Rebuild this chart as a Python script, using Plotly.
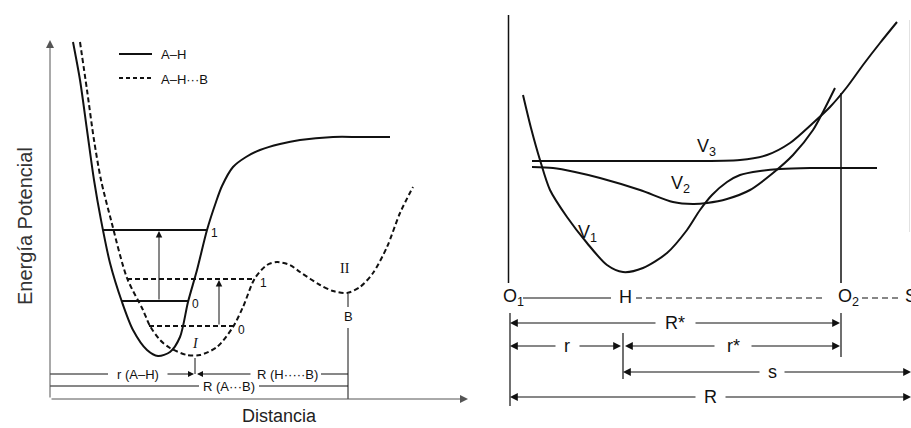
import plotly.graph_objects as go

# ---------------- Left panel: A-H and A-H···B potential curves ----------------
# coordinates: x = distance, y = energy (screen-oriented units, y grows downward)
ah_x = [73, 80, 87, 94, 101, 110, 122, 133, 147, 158, 170, 180, 188, 197, 207, 216, 222, 233, 246, 260, 280, 300, 333, 360, 390]
ah_y = [42, 80, 130, 180, 220, 263, 302, 330, 350, 356, 352, 337, 302, 270, 230, 202, 186, 167, 157, 150, 144, 140, 137, 137, 137]

ahb_x = [80, 87, 94, 101, 111, 127, 143, 150, 160, 170, 187, 200, 217, 233, 243, 255, 267, 277, 290, 300, 320, 333, 347, 360, 373, 387, 400, 413]
ahb_y = [42, 90, 140, 180, 220, 278, 310, 326, 340, 348, 355, 355, 347, 327, 307, 278, 265, 262, 265, 272, 285, 291, 293, 287, 273, 247, 213, 187]

# vibrational levels: (energy, x_left, x_right, label)
ah_levels = [(230, 103, 207, "1"), (301, 122, 188, "0")]
ahb_levels = [(279, 127, 255, "1"), (326, 149, 233, "0")]

# ---------------- Right panel: V1, V2, V3 along the O1-H···O2 coordinate ----------------
v1_x = [523, 531, 540, 550, 567, 587, 607, 623, 643, 667, 687, 700, 712, 727, 740, 760, 780, 810, 877]
v1_y = [95, 128, 160, 190, 217, 243, 265, 272, 268, 253, 230, 210, 195, 182, 175, 171, 169, 168, 168]

v2_x = [532, 553, 575, 600, 640, 673, 693, 707, 727, 750, 773, 793, 813, 824, 835]
v2_y = [167, 168, 172, 178, 190, 202, 204, 203, 199, 190, 173, 155, 130, 110, 88]

v3_x = [532, 600, 680, 740, 767, 790, 813, 830, 847, 863, 880, 897]
v3_y = [161, 161, 161, 160, 155, 143, 123, 107, 87, 65, 43, 22]

INK = "#111111"
AXIS = "#555555"
SANS = "Liberation Sans, Arial, sans-serif"
SERIF = "Liberation Serif, Times New Roman, serif"

fig = go.Figure()


def curve(xs, ys, dash="solid", width=2.0, color=INK, shape="spline"):
    fig.add_trace(go.Scatter(
        x=xs, y=ys, mode="lines", hoverinfo="skip", showlegend=False,
        line=dict(color=color, width=width, dash=dash, shape=shape, smoothing=0.8),
    ))


def seg(x0, y0, x1, y1, width=1.0, color=INK, dash="solid"):
    curve([x0, x1], [y0, y1], dash=dash, width=width, color=color, shape="linear")


def arrow(hx, hy, tx, ty, width=1.0, color=INK, size=1.4):
    fig.add_annotation(x=hx, y=hy, ax=tx, ay=ty, xref="x", yref="y", axref="x", ayref="y",
                       text="", showarrow=True, arrowhead=2, arrowsize=size,
                       arrowwidth=width, arrowcolor=color)


def label(x, y, text, size=14, color=INK, family=SANS, xanchor="center", angle=0):
    fig.add_annotation(x=x, y=y, xref="x", yref="y", text=text, showarrow=False,
                       xanchor=xanchor, yanchor="middle", textangle=angle,
                       font=dict(family=family, size=size, color=color))


DASH = "5px,3px"

# ---- left panel frame ----
arrow(50, 40, 50, 399, width=1.0, color=AXIS, size=1.6)
arrow(468, 399, 50, 399, width=1.0, color=AXIS, size=1.6)
label(25, 226, "Energía Potencial", size=20, color="#333333", angle=-90)
label(279, 416, "Distancia", size=18, color="#222222")

# legend
seg(119, 54, 152, 54, width=2)
label(159, 54, "A–H", size=13, xanchor="left")
seg(119, 78, 152, 78, width=2, dash="4px,3px")
label(159, 79, "A–H···B", size=13, xanchor="left")

# curves
curve(ah_x, ah_y, width=2.0)
curve(ahb_x, ahb_y, dash=DASH, width=2.0)

for e, xl, xr, t in ah_levels:
    seg(xl, e, xr, e, width=2.0)
    label(xr + 7, e + 3, t, size=12)
for e, xl, xr, t in ahb_levels:
    seg(xl, e, xr, e, width=2.0, dash=DASH)
    label(xr + 8, e + 4, t, size=12)

# excitation arrows 0 -> 1
arrow(159, ah_levels[0][0] + 1, 159, ah_levels[1][0], width=1.0, size=1.3)
arrow(219, ahb_levels[0][0] + 1, 219, ahb_levels[1][0], width=1.0, size=1.3)

# minima markers
label(195, 343, "<i>I</i>", size=14, family=SERIF)
seg(195, 358, 195, 374)
label(345, 268, "II", size=14, family=SERIF)
label(348, 316, "B", size=13)
seg(348, 294, 348, 307)
seg(348, 328, 348, 399)

# distance brackets
seg(50, 374, 108, 374)
label(138, 374, "r (A–H)", size=13)
arrow(194, 374, 166, 374, width=1.0, size=1.2)
arrow(197, 374, 252, 374, width=1.0, size=1.2)
label(287, 374, "R (H·····B)", size=13)
seg(321, 374, 348, 374)
seg(50, 386, 199, 386)
label(229, 386, "R (A···B)", size=13)
seg(259, 386, 348, 386)

# ---- right panel ----
seg(508.5, 15, 508.5, 283, width=1.5)
seg(841, 93, 841, 283, width=1.5)
seg(909.5, 20, 909.5, 232, width=1.0, color="#e2e2e2")

curve(v1_x, v1_y, width=2.0)
curve(v2_x, v2_y, width=2.0)
curve(v3_x, v3_y, width=2.0)

label(706, 147, "V<sub>3</sub>", size=18)
label(680, 184, "V<sub>2</sub>", size=18)
label(587, 233, "V<sub>1</sub>", size=18)

# O1 — H ··· O2 ··· S
label(513, 297, "O<sub>1</sub>", size=18)
seg(523, 298, 611, 298, width=1.2)
label(625, 297, "H", size=18)
seg(636, 298, 826, 298, width=1.2, dash="6px,4px")
label(848, 297, "O<sub>2</sub>", size=18)
seg(862, 298, 902, 298, width=1.2, dash="6px,4px")
label(903, 296, "S", size=18, xanchor="left")

# ticks
seg(510, 313, 510, 406, width=1.2)
seg(623, 333, 623, 379, width=1.2)
seg(841, 313, 841, 357, width=1.2)

# R*
label(675, 323, "R*", size=18)
arrow(510, 323, 657, 323, width=1.2, size=1.3)
arrow(840, 323, 694, 323, width=1.2, size=1.3)
# r and r*
label(567, 346, "r", size=18)
arrow(510, 346, 557, 346, width=1.2, size=1.3)
arrow(621, 346, 578, 346, width=1.2, size=1.3)
label(733, 346, "r*", size=18)
arrow(625, 346, 716, 346, width=1.2, size=1.3)
arrow(840, 346, 750, 346, width=1.2, size=1.3)
# s
label(772, 372, "s", size=18)
arrow(623, 372, 761, 372, width=1.2, size=1.3)
arrow(911, 372, 783, 372, width=1.2, size=1.3)
# R
label(710, 397, "R", size=18)
arrow(510, 397, 697, 397, width=1.2, size=1.3)
arrow(911, 397, 724, 397, width=1.2, size=1.3)

fig.update_layout(
    width=911, height=428,
    margin=dict(l=0, r=0, t=0, b=0),
    paper_bgcolor="white", plot_bgcolor="white",
    showlegend=False,
    xaxis=dict(range=[0, 911], visible=False, fixedrange=True),
    yaxis=dict(range=[428, 0], visible=False, fixedrange=True),
)

fig.write_html("out.html")
